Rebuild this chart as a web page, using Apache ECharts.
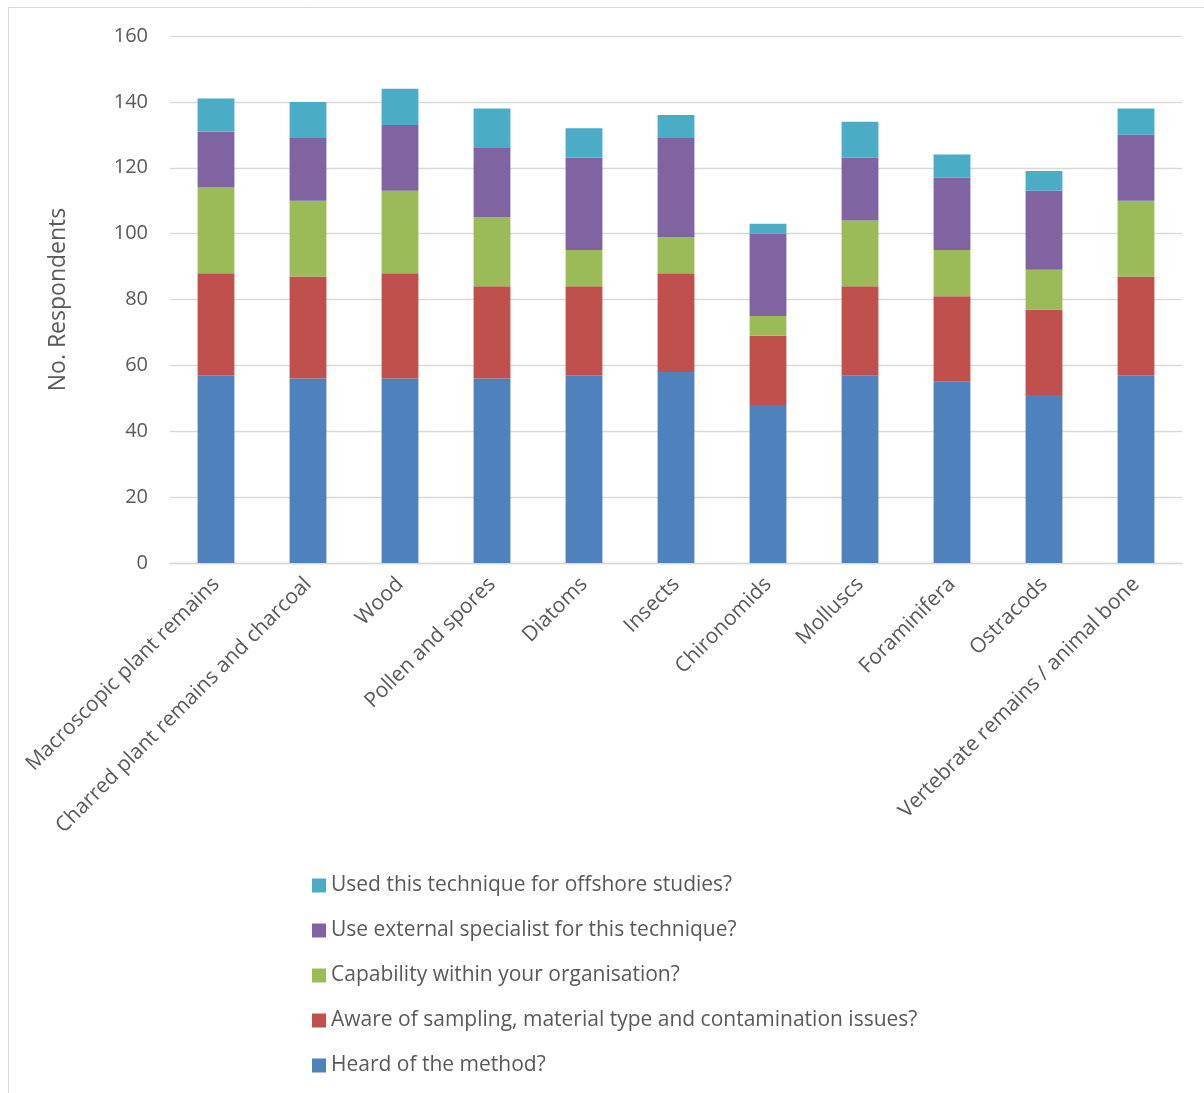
<!DOCTYPE html>
<html>
<head>
<meta charset="utf-8">
<script src="https://cdn.jsdelivr.net/npm/echarts@6/dist/echarts.min.js"></script>
<style>
html,body{margin:0;padding:0;background:#fff;}
#chart{width:1204px;height:1093px;}
</style>
</head>
<body>
<div id="chart"></div>
<script>
const categories = ["Macroscopic plant remains","Charred plant remains and charcoal","Wood","Pollen and spores","Diatoms","Insects","Chironomids","Molluscs","Foraminifera","Ostracods","Vertebrate remains / animal bone"];
const heard = [57,56,56,56,57,58,48,57,55,51,57];
const aware = [31,31,32,28,27,30,21,27,26,26,30];
const capability = [26,23,25,21,11,11,6,20,14,12,23];
const external = [17,19,20,21,28,30,25,19,22,24,20];
const offshore = [10,11,11,12,9,7,3,11,7,6,8];
const seriesNames = ["Heard of the method?","Aware of sampling, material type and contamination issues?","Capability within your organisation?","Use external specialist for this technique?","Used this technique for offshore studies?"];
const yTicks = [0,20,40,60,80,100,120,140,160];

const colors = ["#4F81BD","#C0504D","#9BBB59","#8064A2","#4BACC6"];
const dataSets = [heard, aware, capability, external, offshore];
const font = "'Open Sans', 'Noto Sans', sans-serif";

const chart = echarts.init(document.getElementById('chart'));
chart.setOption({
  animation: false,
  color: colors,
  graphic: [{
    type: 'rect', shape: {x: 8.5, y: 7.5, width: 1300, height: 1200},
    style: {fill: 'none', stroke: '#d9d9d9', lineWidth: 1}, silent: true
  }],
  grid: {left: 170, right: 22, top: 36, bottom: 530, containLabel: false},
  legend: {
    orient: 'vertical',
    left: 307, top: 870,
    data: seriesNames.slice().reverse(),
    itemWidth: 14, itemHeight: 14, itemGap: 24,
    icon: 'rect',
    textStyle: {fontFamily: font, fontSize: 21, color: '#595959', lineHeight: 21, padding: [0,0,0,0]}
  },
  xAxis: {
    type: 'category',
    data: categories,
    axisLine: {lineStyle: {color: '#d9d9d9', width: 1.3}},
    axisTick: {show: false},
    axisLabel: {rotate: 45, fontFamily: font, fontSize: 21, color: '#595959', margin: 18, interval: 0}
  },
  yAxis: {
    type: 'value', min: yTicks[0], max: yTicks[yTicks.length-1], interval: 20,
    name: 'No. Respondents', nameLocation: 'middle', nameGap: 100,
    nameTextStyle: {fontFamily: font, fontSize: 23, color: '#595959'},
    axisLine: {show: false}, axisTick: {show: false},
    axisLabel: {fontFamily: font, fontSize: 20, color: '#595959', margin: 22},
    splitLine: {lineStyle: {color: '#d9d9d9', width: 1.3}}
  },
  series: seriesNames.map((n, i) => ({
    name: n, type: 'bar', stack: 'total', data: dataSets[i],
    barWidth: '40%',
    itemStyle: {color: colors[i]}
  }))
});
</script>
</body>
</html>
